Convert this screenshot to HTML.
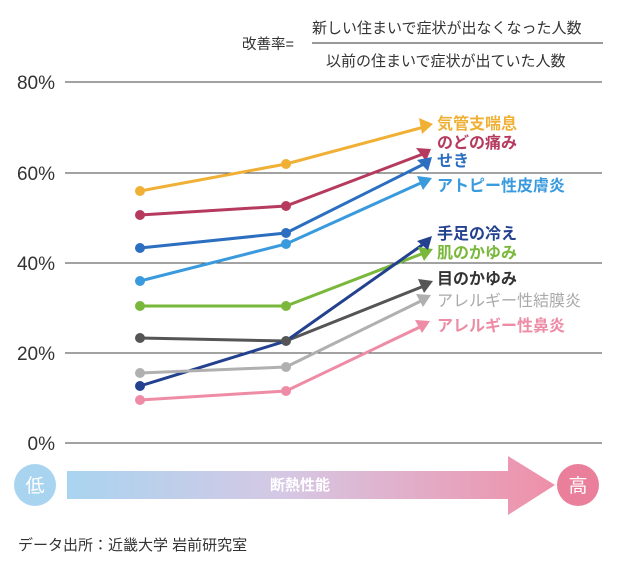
<!DOCTYPE html>
<html><head><meta charset="utf-8"><style>
body{margin:0;background:#fff;width:640px;height:563px;overflow:hidden}
text{font-family:"Liberation Sans","Noto Sans CJK JP",sans-serif}
</style></head><body>
<svg width="640" height="563" viewBox="0 0 640 563" xmlns="http://www.w3.org/2000/svg">
<defs>
<linearGradient id="g" x1="0" x2="1"><stop offset="0" stop-color="#a9d4f0"/><stop offset="0.45" stop-color="#d6c8e4"/><stop offset="1" stop-color="#ef8fa8"/></linearGradient>
</defs>
<text x="242" y="49" font-size="14.5" fill="#333">改善率=</text>
<text x="312" y="33" font-size="15" fill="#333">新しい住まいで症状が出なくなった人数</text>
<line x1="312" y1="43" x2="603" y2="43" stroke="#333" stroke-width="1"/>
<text x="326" y="66" font-size="15" fill="#333">以前の住まいで症状が出ていた人数</text>
<g stroke="#444" stroke-width="1">
<line x1="65" y1="82" x2="602" y2="82"/><line x1="65" y1="173" x2="602" y2="173"/>
<line x1="65" y1="263" x2="602" y2="263"/><line x1="65" y1="353" x2="602" y2="353"/>
<line x1="65" y1="443" x2="602" y2="443"/></g>
<g font-size="19" fill="#333" text-anchor="end">
<text x="55" y="89">80%</text><text x="55" y="180">60%</text><text x="55" y="270">40%</text><text x="55" y="360">20%</text><text x="55" y="450">0%</text></g>
<g stroke-width="3" fill="none">
<polyline stroke="#efb035" points="140,191 286,164 424,127"/>
<polyline stroke="#b53a5e" points="140,215 286,206 423,154"/>
<polyline stroke="#2c6fc0" points="140,248 286,233 424,164"/>
<polyline stroke="#3a9ade" points="140,281 286,244 423,182"/>
<polyline stroke="#7ab83b" points="140,306 286,306 424,253"/>
<polyline stroke="#555" points="140,338 286,341 424,286"/>
<polyline stroke="#23418f" points="140,386 286,341 425,243"/>
<polyline stroke="#b0b0b0" points="140,373 286,367 423,300"/>
<polyline stroke="#ee8ca6" points="140,400 286,391 422,326"/>
</g>
<g>
<circle cx="140" cy="191" r="5" fill="#efb035"/><circle cx="286" cy="164" r="5" fill="#efb035"/>
<circle cx="140" cy="215" r="5" fill="#b53a5e"/><circle cx="286" cy="206" r="5" fill="#b53a5e"/>
<circle cx="140" cy="248" r="5" fill="#2c6fc0"/><circle cx="286" cy="233" r="5" fill="#2c6fc0"/>
<circle cx="140" cy="281" r="5" fill="#3a9ade"/><circle cx="286" cy="244" r="5" fill="#3a9ade"/>
<circle cx="140" cy="306" r="5" fill="#7ab83b"/><circle cx="286" cy="306" r="5" fill="#7ab83b"/>
<circle cx="140" cy="338" r="5" fill="#555"/><circle cx="286" cy="341" r="5" fill="#555"/>
<circle cx="140" cy="386" r="5" fill="#23418f"/>
<circle cx="140" cy="373" r="5" fill="#b0b0b0"/><circle cx="286" cy="367" r="5" fill="#b0b0b0"/>
<circle cx="140" cy="400" r="5" fill="#ee8ca6"/><circle cx="286" cy="391" r="5" fill="#ee8ca6"/>
</g>
<g>
<polygon fill="#efb035" points="433,124 419,118 422,134"/>
<polygon fill="#b53a5e" points="431,149 416,148 426,161"/>
<polygon fill="#2c6fc0" points="432,157 417,160 428,171"/>
<polygon fill="#3a9ade" points="432,178 417,176 423,190"/>
<polygon fill="#7ab83b" points="433,249 418,247 424,261"/>
<polygon fill="#555" points="433,281 418,279 424,293"/>
<polygon fill="#23418f" points="432,236 417,241 428,250"/>
<polygon fill="#b0b0b0" points="431,295 416,294 423,307"/>
<polygon fill="#ee8ca6" points="430,321 415,320 422,333"/>
</g>
<g font-size="16" font-weight="bold">
<text x="437" y="129" fill="#efb035">気管支喘息</text>
<text x="437" y="148" fill="#b53a5e">のどの痛み</text>
<text x="437" y="166" fill="#2c6fc0">せき</text>
<text x="437" y="191" fill="#3a9ade">アトピー性皮膚炎</text>
<text x="437" y="239" fill="#23418f">手足の冷え</text>
<text x="437" y="258" fill="#7ab83b">肌のかゆみ</text>
<text x="437" y="284" fill="#333">目のかゆみ</text>
<text x="437" y="306" fill="#aaa" font-weight="normal">アレルギー性結膜炎</text>
<text x="437" y="331" fill="#ee8ca6">アレルギー性鼻炎</text>
</g>
<circle cx="35" cy="485" r="21" fill="#a9d4f0"/>
<text x="35" y="492" font-size="19" fill="#fff" text-anchor="middle">低</text>
<polygon fill="url(#g)" points="67,471 508,471 508,456 555,485 508,515 508,499 67,499"/>
<text x="300" y="490" font-size="15" font-weight="bold" fill="#fff" text-anchor="middle">断熱性能</text>
<circle cx="578" cy="485" r="21" fill="#ea7f9b"/>
<text x="578" y="492" font-size="19" fill="#fff" text-anchor="middle">高</text>
<text x="18" y="550" font-size="15" fill="#333">データ出所：近畿大学 岩前研究室</text>
</svg>
</body></html>
